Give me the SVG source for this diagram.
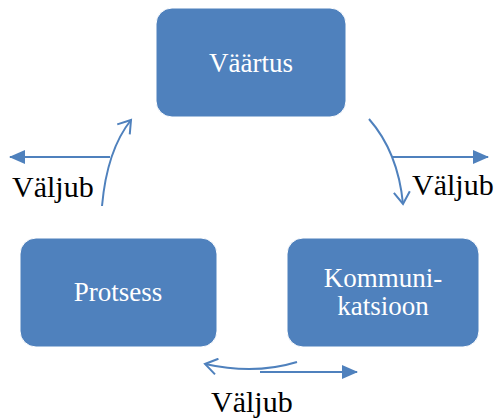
<svg xmlns="http://www.w3.org/2000/svg" width="498" height="419" viewBox="0 0 498 419">
<style>
.box{fill:#4F81BD;stroke:#ffffff;stroke-width:1}
.bt{fill:#ffffff;font-family:"Liberation Serif",serif;font-size:27px;text-anchor:middle}
.lbl{fill:#000000;font-family:"Liberation Serif",serif;font-size:30px}
.ln{fill:none;stroke:#4F81BD;stroke-width:2}
</style>
<defs>
<marker id="open" markerWidth="16" markerHeight="18" refX="13" refY="9" orient="auto" markerUnits="userSpaceOnUse">
<path d="M1,1 L13,9 L1,17" fill="none" stroke="#4F81BD" stroke-width="2"/>
</marker>
<marker id="fill" markerWidth="16" markerHeight="14" refX="15" refY="7" orient="auto" markerUnits="userSpaceOnUse">
<path d="M0,0 L16,7 L0,14 Z" fill="#4F81BD"/>
</marker>
</defs>
<g id="vaartus">
<rect class="box" x="156" y="8" width="190" height="109" rx="16"/>
<text class="bt" x="251" y="72">Väärtus</text>
</g>
<g id="protsess">
<rect class="box" x="20" y="238" width="197" height="109" rx="16"/>
<text class="bt" x="118" y="301">Protsess</text>
</g>
<g id="kommunikatsioon">
<rect class="box" x="287" y="238" width="192" height="109" rx="16"/>
<text class="bt" x="383" y="287">Kommuni-</text>
<text class="bt" x="383" y="315">katsioon</text>
</g>
<g id="connectors">
<path class="ln" d="M102,206 Q107,150 131,120" marker-end="url(#open)"/>
<path class="ln" d="M110,157 L10,157" marker-end="url(#fill)"/>
<path class="ln" d="M369,119 Q398,152 403,204" marker-end="url(#open)"/>
<path class="ln" d="M392,157 L488,157" marker-end="url(#fill)"/>
<path class="ln" d="M297,362 Q255,375 205,364" marker-end="url(#open)"/>
<path class="ln" d="M260,372 L357,372" marker-end="url(#fill)"/>
</g>
<g id="labels">
<text class="lbl" x="12" y="197">Väljub</text>
<text class="lbl" x="412" y="195">Väljub</text>
<text class="lbl" x="211" y="412">Väljub</text>
</g>
</svg>
